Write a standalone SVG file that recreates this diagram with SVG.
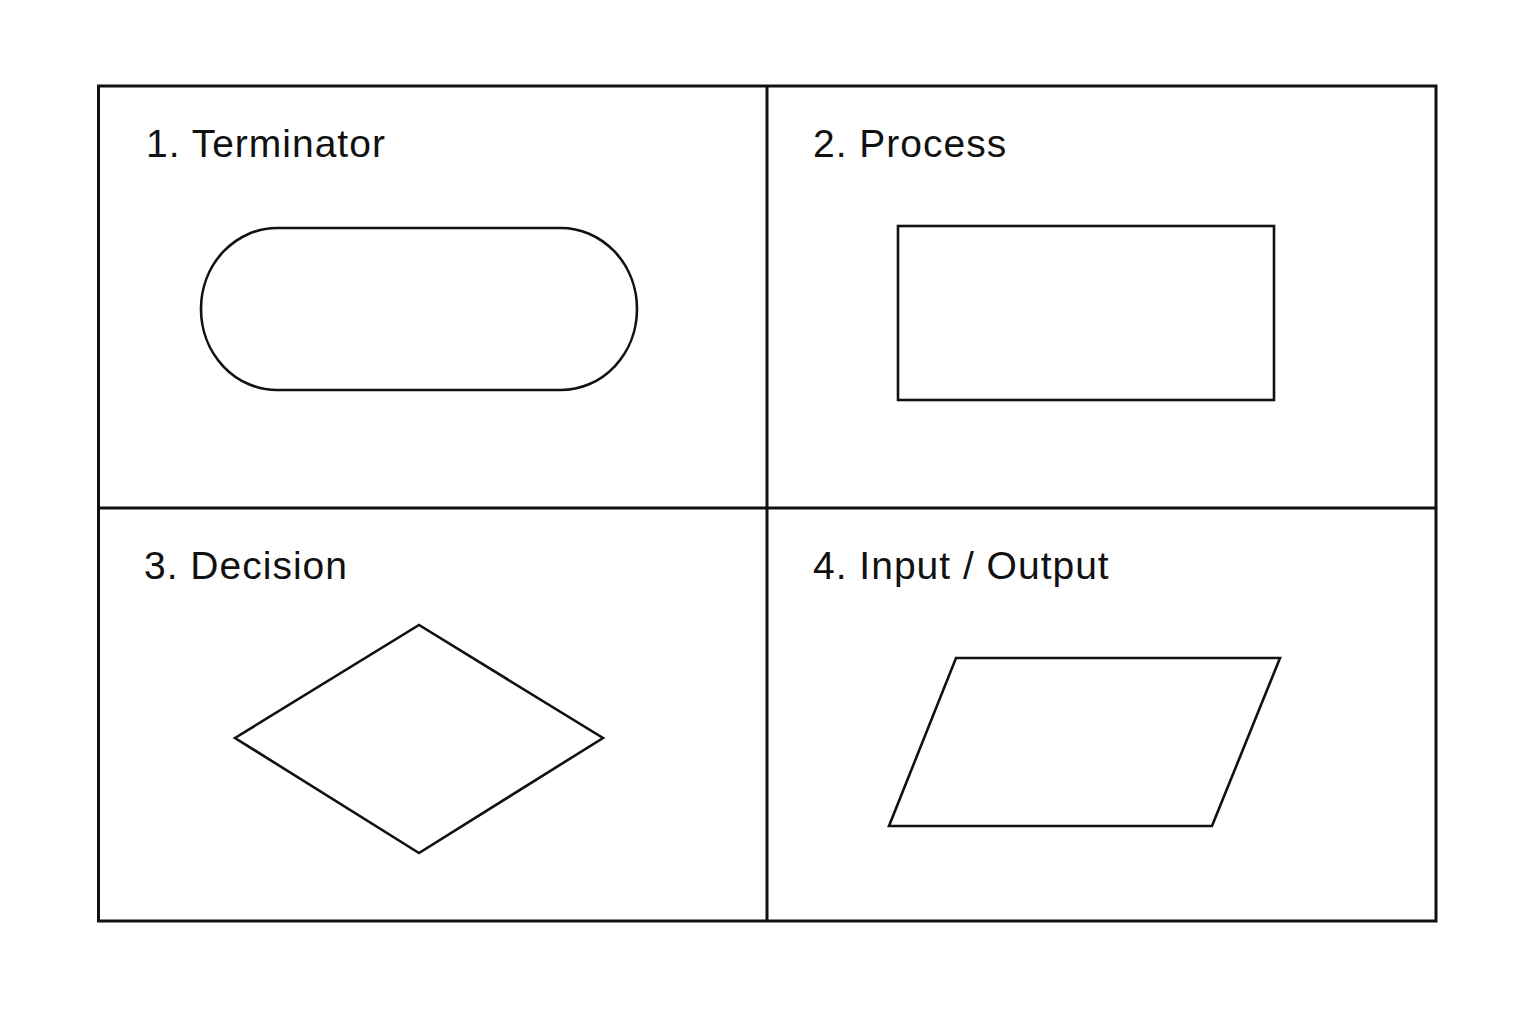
<svg xmlns="http://www.w3.org/2000/svg" width="1536" height="1024" viewBox="0 0 1536 1024">
<style>
.frame{fill:none;stroke:#111;stroke-width:3}
.shape{fill:#fff;stroke:#111;stroke-width:2.6;stroke-linejoin:miter}
.label{font-family:"Liberation Sans",Arial,sans-serif;font-size:39px;letter-spacing:1px;fill:#111}
</style>
<rect width="1536" height="1024" fill="#fff"/>
<g id="grid">
<rect class="frame" x="98.5" y="86" width="1337.5" height="835"/>
<line class="frame" x1="767" y1="86" x2="767" y2="921"/>
<line class="frame" x1="98.5" y1="508" x2="1436" y2="508"/>
</g>
<g id="terminator">
<text class="label" x="146" y="157">1. Terminator</text>
<rect class="shape" x="201" y="228" width="436" height="162" rx="76" ry="81"/>
</g>
<g id="process">
<text class="label" x="813" y="157">2. Process</text>
<rect class="shape" x="898" y="226" width="376" height="174"/>
</g>
<g id="decision">
<text class="label" x="144" y="579">3. Decision</text>
<polygon class="shape" points="235,738 419,625 603,738 419,853"/>
</g>
<g id="io">
<text class="label" x="813" y="579">4. Input / Output</text>
<polygon class="shape" points="956,658 1280,658 1212,826 889,826"/>
</g>
<g id="connectors"/>
</svg>
